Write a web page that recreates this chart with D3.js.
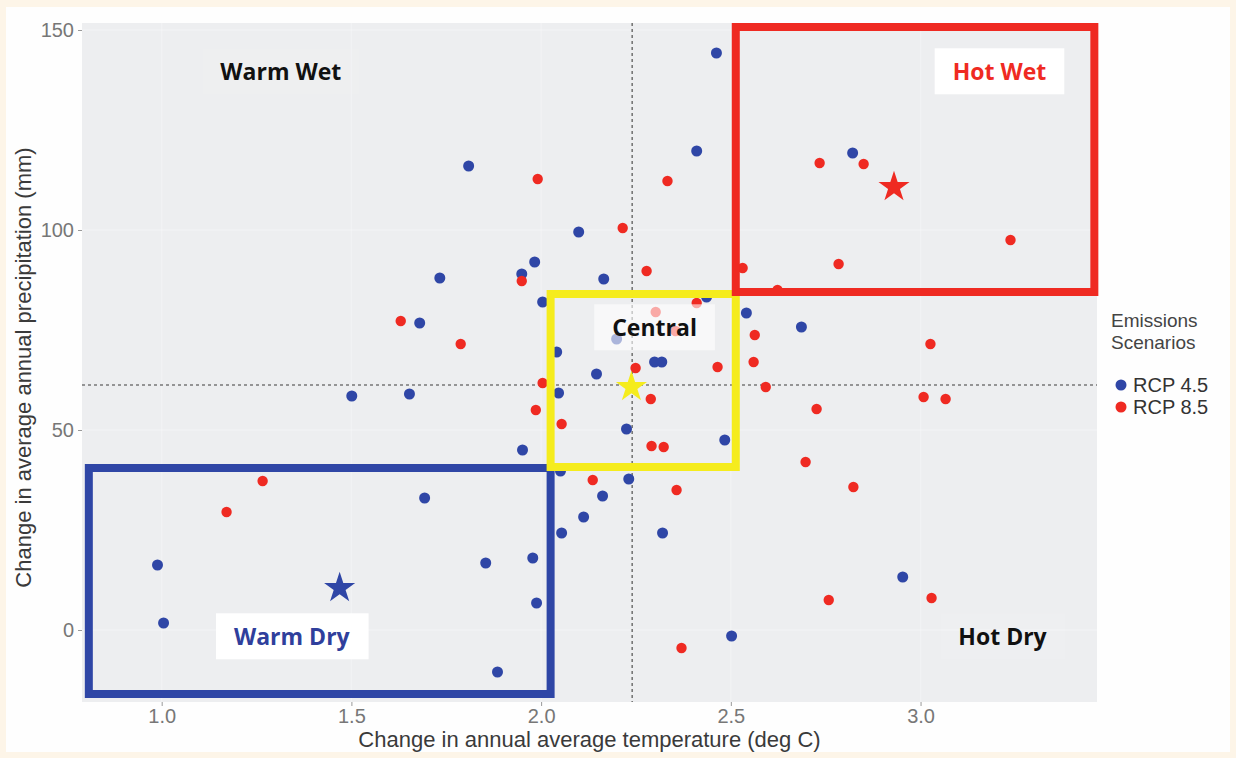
<!DOCTYPE html>
<html>
<head>
<meta charset="utf-8">
<script src="https://cdn.jsdelivr.net/npm/d3@7"></script>
<style>
  html, body { margin: 0; padding: 0; background: #fdf5e8; }
  svg { display: block; }
</style>
</head>
<body>
<svg width="1236" height="758"></svg>
<script>
// temperature change (deg C), precipitation change (mm)
const rcp45 = [
  [2.462, 144.25], [2.410, 119.75], [1.809, 116.0], [2.099, 99.5], [1.983, 92.0],
  [1.949, 89.0], [1.733, 88.0], [2.165, 87.75], [2.004, 82.0], [1.680, 76.75],
  [2.541, 79.25], [2.686, 75.75], [1.501, 58.5], [1.653, 59.0], [2.041, 69.5],
  [2.146, 64.0], [2.199, 72.75], [2.299, 67.0], [2.318, 67.0], [2.436, 83.25],
  [2.046, 59.25], [2.225, 50.25], [2.484, 47.5], [1.951, 45.0], [2.051, 39.75],
  [2.231, 37.75], [1.693, 33.0], [2.162, 33.5], [2.112, 28.25], [2.054, 24.25],
  [2.320, 24.25], [1.854, 16.75], [1.978, 18.0], [1.988, 6.75], [1.885, -10.5],
  [2.502, -1.5], [0.989, 16.25], [1.005, 1.75], [2.953, 13.25], [2.821, 119.25]
];
const rcp85 = [
  [1.991, 112.75], [2.333, 112.25], [2.215, 100.5], [1.949, 87.25], [2.278, 89.75],
  [1.630, 77.25], [1.788, 71.5], [2.531, 90.5], [2.623, 85.0], [2.302, 79.5],
  [2.410, 81.75], [2.354, 74.75], [2.563, 73.75], [2.560, 67.0], [2.465, 65.75],
  [2.249, 65.5], [2.592, 60.75], [3.026, 71.5], [3.008, 58.25], [3.066, 57.75],
  [2.726, 55.25], [2.697, 42.0], [2.823, 35.75], [2.004, 61.75], [1.986, 55.0],
  [2.054, 51.5], [2.289, 57.75], [2.291, 46.0], [2.323, 45.75], [2.136, 37.5],
  [2.357, 35.0], [2.370, -4.5], [1.171, 29.5], [1.266, 37.25], [2.758, 7.5],
  [3.029, 8.0], [3.237, 97.5], [2.784, 91.5], [2.734, 116.75], [2.850, 116.5]
];

// selected scenario per box: [temp, precip]
const starNames = ["Hot Wet", "Warm Dry", "Central"];
const starValues = [[2.93, 110.75], [1.469, 10.5], [2.238, 60.75]];

// boxes: [tempMin, tempMax, precipMin, precipMax]
const boxNames = ["Warm Dry", "Central", "Hot Wet"];
const boxExtents = [[0.808, 2.025, -16, 40.5], [2.025, 2.513, 40.75, 84], [2.513, 3.458, 84.5, 150.75]];

// median lines
const medianTemp = 2.24;
const medianPrecip = 61.25;

const quadrantNames = ["Warm Wet", "Hot Wet", "Central", "Warm Dry", "Hot Dry"];
const quadrantAnchors = [[1.314, 139.5], [3.208, 139.5], [2.299, 75.5], [1.343, -1.75], [3.216, -1.75]];

const xTicks = [1.0, 1.5, 2.0, 2.5, 3.0];
const yTicks = [0, 50, 100, 150];
const legendLabels = ["RCP 4.5", "RCP 8.5"];

const blue = "#2f46a6", red = "#ef2a22", yellow = "#f5ec1d";
const colorOf = { "Hot Wet": red, "Warm Dry": blue, "Central": yellow };
const labelStyle = {
  "Warm Wet": { fill: "#111", bg: 0.06 },
  "Hot Wet": { fill: red, bg: 1 },
  "Central": { fill: "#111", bg: 0.6 },
  "Warm Dry": { fill: "#2f3f9c", bg: 1 },
  "Hot Dry": { fill: "#111", bg: 0.08 }
};

const panel = { left: 82, right: 1097, top: 23, bottom: 702 };

const svg = d3.select("svg");
svg.append("rect").attr("x", 6).attr("y", 7).attr("width", 1224).attr("height", 745).attr("fill", "#fefefe");

const x = d3.scaleLinear().domain([0.79, 3.465]).range([panel.left, panel.right]);
const y = d3.scaleLinear().domain([-18, 151.75]).range([panel.bottom, panel.top]);

svg.append("rect")
  .attr("x", panel.left).attr("y", panel.top)
  .attr("width", panel.right - panel.left).attr("height", panel.bottom - panel.top)
  .attr("fill", "#edeef0");

// faint grid
const grid = svg.append("g").attr("stroke", "#fff").attr("stroke-opacity", 0.25).attr("stroke-width", 1.5);
xTicks.forEach(t => grid.append("line").attr("x1", x(t)).attr("x2", x(t)).attr("y1", panel.top).attr("y2", panel.bottom));
yTicks.forEach(t => grid.append("line").attr("y1", y(t)).attr("y2", y(t)).attr("x1", panel.left).attr("x2", panel.right));

// axes
const axisFont = "'Liberation Sans', Arial, sans-serif";
const gx = svg.append("g").attr("transform", `translate(0,${panel.bottom})`)
  .call(d3.axisBottom(x).tickValues(xTicks).tickFormat(d3.format(".1f")).tickSize(4).tickPadding(3));
const gy = svg.append("g").attr("transform", `translate(${panel.left},0)`)
  .call(d3.axisLeft(y).tickValues(yTicks).tickSize(4).tickPadding(4));
[gx, gy].forEach(g => {
  g.select(".domain").remove();
  g.selectAll(".tick line").attr("stroke", "#999");
  g.selectAll(".tick text").attr("fill", "#777").style("font-family", axisFont).style("font-size", "20px");
});

svg.append("text")
  .attr("x", (panel.left + panel.right) / 2).attr("y", 747)
  .attr("text-anchor", "middle").attr("fill", "#3a3a3a")
  .style("font-family", axisFont).style("font-size", "22px")
  .text("Change in annual average temperature (deg C)");
svg.append("text")
  .attr("transform", `translate(31,${(panel.top + panel.bottom) / 2 + 5}) rotate(-90)`)
  .attr("text-anchor", "middle").attr("fill", "#3a3a3a")
  .style("font-family", axisFont).style("font-size", "22px")
  .text("Change in average annual precipitation (mm)");

// median reference lines
svg.append("line")
  .attr("x1", x(medianTemp)).attr("x2", x(medianTemp)).attr("y1", panel.top).attr("y2", panel.bottom)
  .attr("stroke", "#777").attr("stroke-width", 1.6).attr("stroke-dasharray", "3,3");
svg.append("line")
  .attr("x1", panel.left).attr("x2", panel.right).attr("y1", y(medianPrecip)).attr("y2", y(medianPrecip))
  .attr("stroke", "#777").attr("stroke-width", 1.6).attr("stroke-dasharray", "3,3");

// points
svg.append("g").selectAll("circle").data(rcp45).join("circle")
  .attr("cx", d => x(d[0])).attr("cy", d => y(d[1])).attr("r", 5.5).attr("fill", blue);
svg.append("g").selectAll("circle").data(rcp85).join("circle")
  .attr("cx", d => x(d[0])).attr("cy", d => y(d[1])).attr("r", 5.2).attr("fill", red);

// boxes
svg.append("g").selectAll("rect").data(boxExtents).join("rect")
  .attr("x", d => x(d[0])).attr("y", d => y(d[3]))
  .attr("width", d => x(d[1]) - x(d[0])).attr("height", d => y(d[2]) - y(d[3]))
  .attr("fill", "none").attr("stroke-width", 8)
  .attr("stroke", (d, i) => colorOf[boxNames[i]]);

// stars
svg.append("g").selectAll("path").data(starValues).join("path")
  .attr("transform", d => `translate(${x(d[0])},${y(d[1])})`)
  .attr("d", d3.symbol().type(d3.symbolStar).size(300))
  .attr("fill", (d, i) => colorOf[starNames[i]]);

// quadrant labels
quadrantNames.forEach((name, i) => {
  const st = labelStyle[name];
  const g = svg.append("g");
  const bg = g.append("rect").attr("fill", "#fff").attr("fill-opacity", st.bg);
  const t = g.append("text")
    .attr("x", x(quadrantAnchors[i][0])).attr("y", y(quadrantAnchors[i][1]))
    .attr("dy", "0.36em").attr("text-anchor", "middle").attr("fill", st.fill)
    .style("font-family", "'Open Sans', sans-serif").style("font-weight", 700).style("font-size", "23px")
    .text(name);
  const b = t.node().getBBox();
  bg.attr("x", b.x - 18).attr("y", b.y + b.height / 2 - 23).attr("width", b.width + 36).attr("height", 46);
});

// legend
const legend = svg.append("g").attr("transform", "translate(1111,0)");
legend.append("text").attr("y", 327).attr("fill", "#444")
  .style("font-family", axisFont).style("font-size", "19px").text("Emissions");
legend.append("text").attr("y", 349).attr("fill", "#444")
  .style("font-family", axisFont).style("font-size", "19px").text("Scenarios");
legendLabels.forEach((lab, i) => {
  const row = legend.append("g").attr("transform", `translate(0,${385 + i * 22})`);
  row.append("circle").attr("cx", 10).attr("cy", 0).attr("r", 5.5).attr("fill", i === 0 ? blue : red);
  row.append("text").attr("x", 22).attr("y", 7).attr("fill", "#333")
    .style("font-family", axisFont).style("font-size", "20px").text(lab);
});
</script>
</body>
</html>
